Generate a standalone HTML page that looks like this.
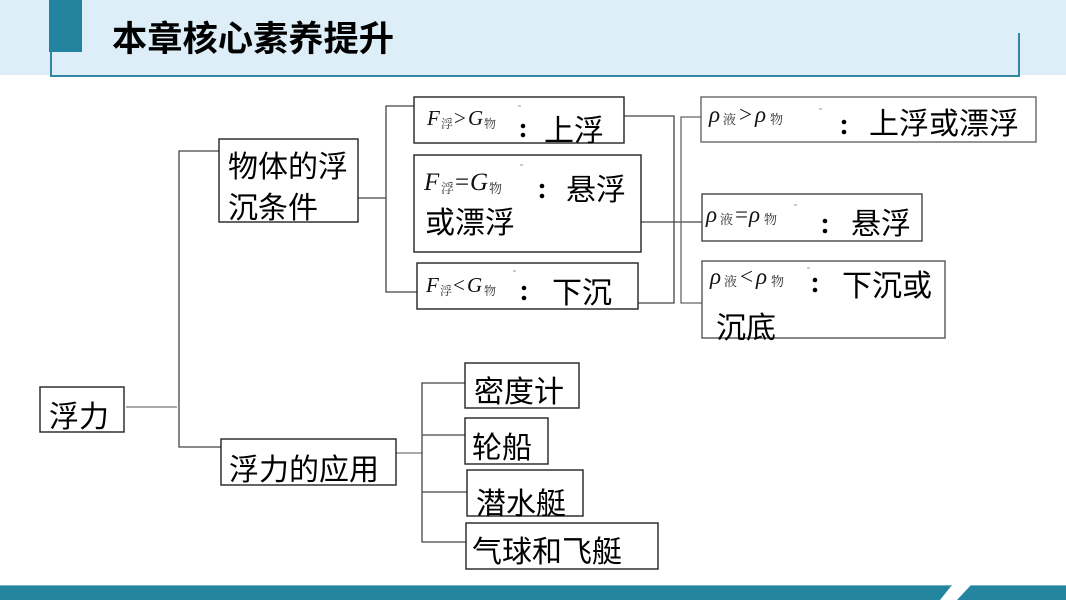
<!DOCTYPE html>
<html><head><meta charset="utf-8"><style>
html,body{margin:0;padding:0;background:#fff;}
svg{display:block;}
.t{font-family:"Liberation Sans","Noto Sans CJK SC",sans-serif;font-size:30px;font-weight:400;fill:#000;}
.f{font-family:"Liberation Serif","Noto Serif CJK SC",serif;fill:#111;}
.i{font-style:italic;}
.s{font-family:"Noto Serif CJK SC","Noto Sans CJK SC",serif;fill:#333;}
</style></head><body>
<svg width="1066" height="600" viewBox="0 0 1066 600" xmlns="http://www.w3.org/2000/svg">
<!-- header -->
<rect x="0" y="0" width="1066" height="75" fill="#ddeef8"/>
<rect x="49" y="0" width="33" height="52" fill="#22849e"/>
<polyline points="51,52 51,76 1019,76 1019,33" fill="none" stroke="#2f87a3" stroke-width="2"/>
<text x="112" y="51" font-family="'Liberation Sans','Noto Sans CJK SC',sans-serif" font-weight="bold" font-size="35" textLength="282" lengthAdjust="spacingAndGlyphs" fill="#000">本章核心素养提升</text>

<!-- bottom bar -->
<polygon points="0,585 952,585 940,600 0,600" fill="#23859f"/>
<polygon points="971,585 1066,585 1066,600 957,600" fill="#23859f"/>
<line x1="0" y1="585.5" x2="951" y2="585.5" stroke="#6fb3c6" stroke-width="1"/>
<line x1="971" y1="585.5" x2="1066" y2="585.5" stroke="#6fb3c6" stroke-width="1"/>

<!-- connectors -->
<g stroke="#444" stroke-width="1.3" fill="none">
<line x1="126" y1="407" x2="177" y2="407" stroke="#777"/>
<polyline points="220,151 179,151 179,447 221,447"/>
<line x1="358" y1="198" x2="386" y2="198"/>
<polyline points="414,106 386,106 386,292 417,292"/>
<polyline points="624,116 674,116 674,303 638,303"/>
<line x1="641" y1="222" x2="702" y2="222"/>
<polyline points="701,117 681,117 681,303 702,303" stroke="#666"/>
<line x1="396" y1="453" x2="422" y2="453" stroke="#777"/>
<polyline points="465,383 422,383 422,542 466,542"/>
<line x1="422" y1="435" x2="465" y2="435"/>
<line x1="422" y1="492" x2="467" y2="492"/>
</g>

<!-- boxes -->
<g fill="#fff" stroke="#222" stroke-width="1.4">
<rect x="40" y="387" width="84" height="45"/>
<rect x="219" y="139" width="139" height="83"/>
<rect x="221" y="439" width="175" height="46"/>
<rect x="414" y="97" width="210" height="46"/>
<rect x="414" y="155" width="227" height="97"/>
<rect x="417" y="263" width="221" height="46"/>
<rect x="701" y="97" width="335" height="45" stroke="#666"/>
<rect x="702" y="194" width="220" height="47" stroke="#444"/>
<rect x="702" y="261" width="243" height="77" stroke="#555"/>
<rect x="465" y="363" width="114" height="45"/>
<rect x="465" y="418" width="83" height="46"/>
<rect x="467" y="470" width="116" height="46"/>
<rect x="466" y="523" width="192" height="46"/>
</g>

<!-- main labels -->
<text class="t" x="49" y="427">浮力</text>
<text class="t" x="228" y="177">物体的浮</text>
<text class="t" x="228" y="218">沉条件</text>
<text class="t" x="229" y="480">浮力的应用</text>
<text class="t" x="544" y="141">上浮</text>
<text class="t" x="566" y="200">悬浮</text>
<text class="t" x="425" y="233">或漂浮</text>
<text class="t" x="552" y="303">下沉</text>
<text class="t" x="869" y="134">上浮或漂浮</text>
<text class="t" x="851" y="234">悬浮</text>
<text class="t" x="842" y="296">下沉或</text>
<text class="t" x="716" y="338">沉底</text>
<text class="t" x="474" y="402">密度计</text>
<text class="t" x="472" y="458">轮船</text>
<text class="t" x="476" y="514">潜水艇</text>
<text class="t" x="472" y="562">气球和飞艇</text>

<!-- formulas -->
<g class="f">
<text x="427" y="125" font-size="21" class="i">F</text>
<text x="441" y="128" font-size="12" class="s">浮</text>
<text x="454" y="125" font-size="21">&gt;</text>
<text x="468" y="125" font-size="21" class="i">G</text>
<text x="484" y="128" font-size="12" class="s">物</text>

<text x="424" y="190" font-size="25" class="i">F</text>
<text x="441" y="193" font-size="13" class="s">浮</text>
<text x="455" y="190" font-size="25">=</text>
<text x="470" y="190" font-size="25" class="i">G</text>
<text x="489" y="193" font-size="13" class="s">物</text>

<text x="426" y="292" font-size="21" class="i">F</text>
<text x="440" y="295" font-size="12" class="s">浮</text>
<text x="453" y="292" font-size="21">&lt;</text>
<text x="467" y="292" font-size="21" class="i">G</text>
<text x="484" y="295" font-size="12" class="s">物</text>

<text x="709" y="122" font-size="23" class="i">ρ</text>
<text x="723" y="124" font-size="13" class="s">液</text>
<text x="739" y="122" font-size="23">&gt;</text>
<text x="755" y="122" font-size="23" class="i">ρ</text>
<text x="770" y="124" font-size="13" class="s">物</text>

<text x="706" y="222" font-size="23" class="i">ρ</text>
<text x="720" y="224" font-size="13" class="s">液</text>
<text x="735" y="222" font-size="23">=</text>
<text x="749" y="222" font-size="23" class="i">ρ</text>
<text x="764" y="224" font-size="13" class="s">物</text>

<text x="710" y="284" font-size="23" class="i">ρ</text>
<text x="724" y="286" font-size="13" class="s">液</text>
<text x="740" y="284" font-size="23">&lt;</text>
<text x="756" y="284" font-size="23" class="i">ρ</text>
<text x="771" y="286" font-size="13" class="s">物</text>
</g>

<!-- colons -->
<g fill="#000">
<circle cx="523" cy="126" r="2.3"/><circle cx="523" cy="135" r="2.3"/>
<circle cx="542" cy="186" r="2.3"/><circle cx="542" cy="196" r="2.3"/>
<circle cx="524" cy="288" r="2.3"/><circle cx="524" cy="298" r="2.3"/>
<circle cx="844" cy="122" r="2.3"/><circle cx="844" cy="132" r="2.3"/>
<circle cx="825" cy="221" r="2.3"/><circle cx="825" cy="231" r="2.3"/>
<circle cx="815" cy="280" r="2.3"/><circle cx="815" cy="290" r="2.3"/>
</g>

<!-- tiny dashes -->
<g stroke="#999" stroke-width="1">
<line x1="518" y1="106" x2="521" y2="106"/>
<line x1="520" y1="165" x2="523" y2="165"/>
<line x1="513" y1="271" x2="516" y2="271"/>
<line x1="819" y1="109" x2="822" y2="109"/>
<line x1="794" y1="205" x2="797" y2="205"/>
<line x1="807" y1="268" x2="810" y2="268"/>
</g>
</svg>
</body></html>
